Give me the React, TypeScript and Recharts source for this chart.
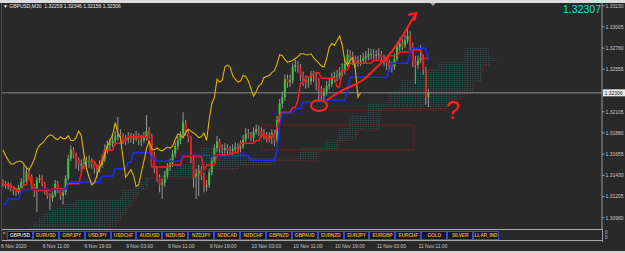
import {
  ComposedChart, Bar, Line, Area, XAxis, YAxis, ReferenceLine, ReferenceArea, ReferenceDot,
} from 'recharts'

const symbol = 'GBPUSD'
const period = 'M30'
const askText = '1.32307'

// M30 bars, 6 Nov 03:30 .. 11 Nov 13:00
const firstOpen = 1.3136
const closes = [
  1.3134, 1.3132, 1.3133, 1.3129, 1.3127, 1.3125, 1.3130, 1.3136, 1.3137, 1.3147,
  1.3142, 1.3132, 1.3127, 1.3138, 1.3140, 1.3134, 1.3127, 1.3121, 1.3119, 1.3123,
  1.3134, 1.3127, 1.3121, 1.3125, 1.3140, 1.3161, 1.3170, 1.3164, 1.3159, 1.3155,
  1.3155, 1.3157, 1.3158, 1.3158, 1.3155, 1.3151, 1.3149, 1.3154, 1.3160, 1.3170,
  1.3175, 1.3177, 1.3180, 1.3184, 1.3186, 1.3185, 1.3182, 1.3181, 1.3184, 1.3182,
  1.3182, 1.3185, 1.3180, 1.3180, 1.3183, 1.3190, 1.3185, 1.3166, 1.3150, 1.3141,
  1.3133, 1.3135, 1.3143, 1.3152, 1.3156, 1.3166, 1.3174, 1.3180, 1.3186, 1.3199,
  1.3188, 1.3183, 1.3161, 1.3141, 1.3145, 1.3149, 1.3143, 1.3131, 1.3133, 1.3146,
  1.3158, 1.3172, 1.3179, 1.3171, 1.3170, 1.3172, 1.3170, 1.3169, 1.3171, 1.3173,
  1.3172, 1.3174, 1.3181, 1.3187, 1.3186, 1.3183, 1.3189, 1.3192, 1.3190, 1.3188,
  1.3186, 1.3183, 1.3184, 1.3188, 1.3180, 1.3202, 1.3219, 1.3226, 1.3245, 1.3242,
  1.3244, 1.3258, 1.3260, 1.3258, 1.3249, 1.3245, 1.3242, 1.3243, 1.3249, 1.3248,
  1.3243, 1.3235, 1.3227, 1.3232, 1.3238, 1.3240, 1.3247, 1.3248, 1.3249, 1.3252,
  1.3254, 1.3261, 1.3271, 1.3270, 1.3266, 1.3263, 1.3264, 1.3265, 1.3267, 1.3269,
  1.3272, 1.3272, 1.3271, 1.3271, 1.3272, 1.3268, 1.3265, 1.3262, 1.3259, 1.3258,
  1.3267, 1.3279, 1.3283, 1.3281, 1.3286, 1.3291, 1.3281, 1.3264, 1.3260, 1.3265,
  1.3268, 1.3255, 1.32259, 1.32306,
]
const highs = [
  1.3139, 1.3137, 1.3136, 1.3135, 1.3131, 1.3130, 1.3133, 1.3140, 1.3154, 1.3152,
  1.3150, 1.3144, 1.3134, 1.3141, 1.3144, 1.3143, 1.3136, 1.3129, 1.3124, 1.3126,
  1.3138, 1.3137, 1.3129, 1.3128, 1.3143, 1.3165, 1.3175, 1.3173, 1.3167, 1.3162,
  1.3160, 1.3162, 1.3163, 1.3164, 1.3161, 1.3158, 1.3155, 1.3159, 1.3165, 1.3176,
  1.3180, 1.3182, 1.3186, 1.3190, 1.3205, 1.3192, 1.3188, 1.3186, 1.3189, 1.3188,
  1.3187, 1.3190, 1.3188, 1.3186, 1.3189, 1.3207, 1.3194, 1.3187, 1.3168, 1.3153,
  1.3144, 1.3140, 1.3148, 1.3156, 1.3161, 1.3170, 1.3178, 1.3185, 1.3190, 1.3210,
  1.3202, 1.3192, 1.3185, 1.3163, 1.3150, 1.3154, 1.3153, 1.3146, 1.3138, 1.3150,
  1.3162, 1.3176, 1.3185, 1.3182, 1.3176, 1.3177, 1.3176, 1.3174, 1.3176, 1.3178,
  1.3177, 1.3180, 1.3186, 1.3193, 1.3192, 1.3189, 1.3194, 1.3197, 1.3196, 1.3194,
  1.3192, 1.3189, 1.3189, 1.3192, 1.3191, 1.3206, 1.3224, 1.3232, 1.3250, 1.3250,
  1.3250, 1.3262, 1.3266, 1.3264, 1.3261, 1.3253, 1.3249, 1.3248, 1.3254, 1.3254,
  1.3252, 1.3246, 1.3238, 1.3236, 1.3243, 1.3246, 1.3252, 1.3253, 1.3255, 1.3258,
  1.3262, 1.3266, 1.3277, 1.3276, 1.3274, 1.3270, 1.3270, 1.3271, 1.3273, 1.3275,
  1.3278, 1.3277, 1.3277, 1.3276, 1.3278, 1.3275, 1.3271, 1.3268, 1.3266, 1.3264,
  1.3272, 1.3284, 1.3289, 1.3288, 1.3292, 1.3300, 1.3296, 1.3284, 1.3270, 1.3270,
  1.3281, 1.3271, 1.3258, 1.32346,
]
const lows = [
  1.3131, 1.3129, 1.3128, 1.3126, 1.3122, 1.3121, 1.3123, 1.3128, 1.3133, 1.3135,
  1.3139, 1.3129, 1.3120, 1.3104, 1.3135, 1.3131, 1.3123, 1.3118, 1.3106, 1.3115,
  1.3120, 1.3124, 1.3117, 1.3112, 1.3122, 1.3138, 1.3158, 1.3161, 1.3150, 1.3148,
  1.3146, 1.3150, 1.3152, 1.3151, 1.3150, 1.3145, 1.3140, 1.3146, 1.3151, 1.3157,
  1.3166, 1.3170, 1.3173, 1.3176, 1.3180, 1.3180, 1.3176, 1.3175, 1.3177, 1.3178,
  1.3176, 1.3179, 1.3175, 1.3174, 1.3177, 1.3180, 1.3182, 1.3162, 1.3145, 1.3136,
  1.3125, 1.3118, 1.3131, 1.3139, 1.3148, 1.3152, 1.3162, 1.3170, 1.3176, 1.3183,
  1.3185, 1.3178, 1.3156, 1.3130, 1.3118, 1.3121, 1.3138, 1.3125, 1.3126, 1.3130,
  1.3143, 1.3155, 1.3168, 1.3167, 1.3165, 1.3166, 1.3165, 1.3164, 1.3165, 1.3167,
  1.3167, 1.3168, 1.3171, 1.3178, 1.3182, 1.3179, 1.3179, 1.3186, 1.3185, 1.3183,
  1.3181, 1.3178, 1.3178, 1.3176, 1.3174, 1.3178, 1.3199, 1.3214, 1.3222, 1.3236,
  1.3237, 1.3240, 1.3253, 1.3252, 1.3243, 1.3238, 1.3235, 1.3236, 1.3239, 1.3242,
  1.3233, 1.3222, 1.3221, 1.3222, 1.3228, 1.3234, 1.3237, 1.3242, 1.3243, 1.3245,
  1.3248, 1.3250, 1.3258, 1.3264, 1.3260, 1.3257, 1.3258, 1.3259, 1.3261, 1.3262,
  1.3265, 1.3266, 1.3266, 1.3265, 1.3266, 1.3262, 1.3259, 1.3255, 1.3253, 1.3252,
  1.3255, 1.3264, 1.3275, 1.3276, 1.3278, 1.3283, 1.3276, 1.3258, 1.3240, 1.3256,
  1.3262, 1.3250, 1.3218, 1.32156,
]

// Ichimoku lines as [first bar, level] steps
const tenkanSteps: [number, number][] = [
  [0, 1.3133], [3, 1.3131], [5, 1.3127], [8, 1.3133], [10, 1.3143], [11, 1.3131], [12, 1.3127],
  [19, 1.3129], [25, 1.3134], [30, 1.3146], [31, 1.3158], [36, 1.3152], [38, 1.3162], [39, 1.3170],
  [43, 1.3177], [46, 1.3180], [48, 1.3184], [56, 1.3178], [57, 1.3152], [64, 1.3154], [69, 1.3163],
  [77, 1.3149], [78, 1.3154], [82, 1.3165], [88, 1.3167], [91, 1.3177], [97, 1.3180], [99, 1.3186],
  [101, 1.3181], [103, 1.3186], [105, 1.3194], [106, 1.3207], [107, 1.3210], [111, 1.3215],
  [113, 1.3223], [114, 1.3241], [116, 1.3247], [119, 1.3252], [122, 1.3246], [128, 1.3237],
  [130, 1.3255], [133, 1.3262], [142, 1.3265], [148, 1.3270], [152, 1.3274], [157, 1.3276],
  [161, 1.3267],
]
const kijunSteps: [number, number][] = [
  [0, 1.3112], [2, 1.3118], [7, 1.3128], [25, 1.3136], [38, 1.3142], [43, 1.3150], [48, 1.3157],
  [50, 1.3167], [57, 1.3161], [59, 1.3158], [69, 1.3164], [95, 1.3159], [105, 1.3170],
  [106, 1.3196], [107, 1.3209], [112, 1.3214], [115, 1.3221], [124, 1.3223], [132, 1.3233],
  [133, 1.3247], [148, 1.3253], [149, 1.3262], [156, 1.3274], [157, 1.3278], [163, 1.3265],
]
const spanASteps: [number, number][] = [
  [10, 1.3087], [12, 1.3093], [14, 1.3099], [16, 1.3103], [18, 1.3106], [21, 1.3110], [24, 1.3114],
  [28, 1.3117], [31, 1.3118], [46, 1.3128], [50, 1.3131], [52, 1.3136], [55, 1.3141], [60, 1.3146],
  [63, 1.3150], [68, 1.3156], [72, 1.3165], [76, 1.3172], [84, 1.3168], [93, 1.3162], [104, 1.3161],
  [114, 1.3172], [124, 1.3180], [129, 1.3193], [133, 1.3206], [140, 1.3220], [148, 1.3233],
  [153, 1.3244], [158, 1.3255], [167, 1.3263], [177, 1.3278], [187, 1.3267],
]
const spanBSteps: [number, number][] = [
  [10, 1.3080], [41, 1.3087], [44, 1.3095], [46, 1.3103], [48, 1.3110], [50, 1.3117], [52, 1.3124],
  [53, 1.3128], [56, 1.3140], [75, 1.3149], [91, 1.3154], [105, 1.3159], [121, 1.3170],
  [129, 1.3180], [136, 1.3191], [145, 1.3214], [171, 1.3223], [176, 1.3230], [181, 1.3243],
  [184, 1.3260], [187, 1.3265],
]
const LAST_BAR = 163
const CLOUD_END = 189
const CHIKOU_SHIFT = 26

const timeTickBars = [0, 15, 31, 47, 63, 79, 95, 111, 127, 143, 159]
const timeLabels = [
  '6 Nov 2020', '6 Nov 11:00', '6 Nov 19:00', '9 Nov 03:00', '9 Nov 11:00', '9 Nov 19:00',
  '10 Nov 03:00', '10 Nov 11:00', '10 Nov 19:00', '11 Nov 03:00', '11 Nov 11:00',
]
const priceTicks = [1.3098, 1.31205, 1.3143, 1.31655, 1.3188, 1.32105, 1.32555, 1.3278, 1.33005, 1.3323]

const tabs = [
  'GBPUSD', 'EURUSD', 'GBPJPY', 'USDJPY', 'USDCHF', 'AUDUSD', 'NZDUSD', 'NZDJPY', 'NZDCAD', 'NZDCHF',
  'GBPNZD', 'GBPAUD', 'EURNZD', 'EURJPY', 'EURGBP', 'EURCHF', 'GOLD', 'SILVER', 'LLAR_IND',
]

// hand drawn marks, in bar / price units
const arrowPath = [
  { i: 124.1, p: 1.32229 }, { i: 130.3, p: 1.32336 }, { i: 137.9, p: 1.32442 }, { i: 144.4, p: 1.32612 },
  { i: 149.4, p: 1.3276 }, { i: 153.3, p: 1.32919 }, { i: 156.7, p: 1.33078 }, { i: 158.4, p: 1.33153 },
]
const arrowHead = [{ i: 155.2, p: 1.33131 }, { i: 158.4, p: 1.33153 }, { i: 157.5, p: 1.33068 }]
const circleAt = { i: 121.1, p: 1.32171 }
const questionAt = { i: 172.4, p: 1.32123 }
const boxes = [
  { i1: 99.2, i2: 157.5, p1: 1.31699, p2: 1.31964 },
  { i1: 118.8, i2: 169.35, p1: 1.32124, p2: 1.32166 },
]

const FONT = '"Liberation Sans", Arial, sans-serif'
const BG = '#292929'
const TEXT = '#c8c8c8'
const PLOT_RIGHT = 602

function stepFill(steps: [number, number][], end: number) {
  const out: (number | null)[] = []
  let k = 0
  for (let b = 0; b <= end; b++) {
    while (k + 1 < steps.length && steps[k + 1][0] <= b) k++
    out.push(b >= steps[0][0] ? steps[k][1] : null)
  }
  return out
}

const tenkan = stepFill(tenkanSteps, LAST_BAR)
const kijun = stepFill(kijunSteps, LAST_BAR)
const spanA = stepFill(spanASteps, CLOUD_END)
const spanB = stepFill(spanBSteps, CLOUD_END)

const rows = Array.from({ length: CLOUD_END + 1 }, (_, i) => ({
  i,
  open: i <= LAST_BAR ? (i === 0 ? firstOpen : closes[i - 1]) : null,
  high: highs[i] ?? null,
  low: lows[i] ?? null,
  close: closes[i] ?? null,
  tenkan: tenkan[i] ?? null,
  kijun: kijun[i] ?? null,
  chikou: closes[i + CHIKOU_SHIFT] ?? null,
  spanA: spanA[i] ?? null,
  spanB: spanB[i] ?? null,
}))

const last = rows[LAST_BAR]
const bid = closes[LAST_BAR]

const Candle = (props: any) => {
  const { x, y, width, height, payload } = props
  if (payload == null || payload.high == null) return null
  const top = Math.min(y, y + height)
  const h = Math.abs(height)
  const span = payload.high - payload.low || 1e-9
  const py = (v: number) => top + ((payload.high - v) / span) * h
  const cx = x + width / 2
  const up = payload.close >= payload.open
  const bTop = py(Math.max(payload.open, payload.close))
  const bBot = py(Math.min(payload.open, payload.close))
  return (
    <g>
      <line x1={cx} x2={cx} y1={top} y2={top + h} stroke="#a4a4a4" strokeWidth={0.9} />
      <rect x={cx - 1} y={bTop} width={2} height={Math.max(1, bBot - bTop)} fill={up ? '#3cc43c' : '#f01c1c'} />
    </g>
  )
}

const PriceTick = (props: any) => {
  const { y, payload } = props
  const v = payload.value as number
  if (v === bid) {
    return (
      <g>
        <rect x={603} y={y - 3.5} width={22} height={7} fill="#e8e8e8" />
        <text x={604.5} y={y + 1.8} fontSize={5} fill="#222" fontFamily={FONT}>{v.toFixed(5)}</text>
      </g>
    )
  }
  return (
    <g>
      <line x1={PLOT_RIGHT} x2={PLOT_RIGHT + 2.5} y1={y} y2={y} stroke="#9a9a9a" />
      <text x={605.5} y={y + 1.8} fontSize={5} fill={TEXT} fontFamily={FONT}>{v.toFixed(5)}</text>
    </g>
  )
}

const TimeTick = (props: any) => {
  const { x, payload } = props
  const k = timeTickBars.indexOf(payload.value)
  if (k < 0) return null
  return (
    <text x={k === 0 ? x - 2 : x + 0.5} y={248} fontSize={5} fill={TEXT} fontFamily={FONT}>
      {timeLabels[k]}
    </text>
  )
}

export default function App() {
  const header = `${symbol},${period}  ${last.open!.toFixed(5)} ${last.high!.toFixed(5)} ${last.low!.toFixed(5)} ${last.close!.toFixed(5)}`
  return (
    <div style={{ position: 'relative', width: 625, height: 253, background: BG, overflow: 'hidden', fontFamily: FONT }}>
      <style>{'body{margin:0}'}</style>
      <ComposedChart
        width={625}
        height={253}
        data={rows}
        margin={{ top: 3, right: 0, bottom: 0, left: 2 }}
      >
        <defs>
          <pattern id="cloudDots" width={2.61} height={2} patternUnits="userSpaceOnUse" x={2.5} y={0}>
            <rect width={1} height={1} fill="#22605f" />
          </pattern>
        </defs>
        <XAxis
          dataKey="i"
          type="number"
          domain={[-0.38, 229.5]}
          ticks={timeTickBars}
          interval={0}
          tick={<TimeTick />}
          tickLine={false}
          axisLine={false}
          height={24}
          allowDataOverflow
        />
        <YAxis
          orientation="right"
          type="number"
          domain={[1.30861, 1.33259]}
          ticks={[...priceTicks, bid]}
          interval={0}
          tick={<PriceTick />}
          tickLine={false}
          axisLine={{ stroke: '#9a9a9a' }}
          width={23}
          allowDataOverflow
        />
        <Area
          dataKey={(d: any) => (d.spanA == null ? null : [d.spanB, d.spanA])}
          type="linear"
          fill="url(#cloudDots)"
          fillOpacity={1}
          stroke="none"
          isAnimationActive={false}
        />
        <Line dataKey="spanB" type="linear" stroke="#8a2020" strokeWidth={1} strokeDasharray="1 1.5" dot={false} isAnimationActive={false} />
        {boxes.map((b, k) => (
          <ReferenceArea key={k} x1={b.i1} x2={b.i2} y1={b.p1} y2={b.p2} fill="none" fillOpacity={0} stroke="#8a2020" strokeDasharray="1 1" strokeWidth={1} />
        ))}
        <ReferenceLine y={bid} stroke="#8a8a8a" strokeWidth={1} />
        <Bar
          dataKey={(d: any) => (d.high == null ? null : [d.low, d.high])}
          barSize={2}
          shape={<Candle />}
          isAnimationActive={false}
        />
        <Line dataKey="tenkan" type="linear" stroke="#ff1a1a" strokeWidth={1.5} dot={false} isAnimationActive={false} />
        <Line dataKey="kijun" type="linear" stroke="#1a2cff" strokeWidth={1.5} dot={false} isAnimationActive={false} />
        <Line dataKey="chikou" type="linear" stroke="#e0b400" strokeWidth={1.1} dot={false} isAnimationActive={false} />
        <Line data={arrowPath} dataKey="p" type="monotone" stroke="#ff2020" strokeWidth={2} dot={false} isAnimationActive={false} />
        <Line data={arrowHead} dataKey="p" type="linear" stroke="#ff2020" strokeWidth={2} dot={false} isAnimationActive={false} />
        <ReferenceDot
          x={circleAt.i}
          y={circleAt.p}
          shape={(p: any) => <ellipse cx={p.cx} cy={p.cy} rx={8} ry={5.5} fill="none" stroke="#ff2020" strokeWidth={2} />}
        />
        <ReferenceDot
          x={questionAt.i}
          y={questionAt.p}
          shape={(p: any) => (
            <text x={p.cx} y={p.cy + 9} textAnchor="middle" fontSize={25} fill="#ff2020" fontFamily={FONT}>?</text>
          )}
        />
      </ComposedChart>

      {/* window chrome */}
      <div style={{ position: 'absolute', left: 0, top: 0, width: 625, height: 3, background: '#dcdcdc' }} />
      <div style={{ position: 'absolute', left: 1, top: 3, width: 1, height: 238, background: '#4a4a4a' }} />
      <div style={{ position: 'absolute', left: 430, top: 3, width: 0, height: 0, borderLeft: '3px solid transparent', borderRight: '3px solid transparent', borderTop: '3px solid #9a9a9a' }} />
      <div style={{ position: 'absolute', left: 3, top: 2.5, color: '#e8e8e8', fontSize: 5, lineHeight: '7px', whiteSpace: 'pre' }}>
        {'\u25BC ' + header}
      </div>
      <div style={{ position: 'absolute', right: 24, top: 3, color: '#22dede', fontSize: 10.5, lineHeight: '12px' }}>{askText}</div>

      {/* indicator sub-window with symbol buttons */}
      <div style={{ position: 'absolute', left: 2, top: 229, width: 600, height: 12, borderTop: '1px solid #a8a8a8', borderBottom: '1px solid #a8a8a8', background: BG, boxSizing: 'border-box' }} />
      <div style={{ position: 'absolute', left: PLOT_RIGHT, top: 229, width: 1, height: 13, background: '#9a9a9a' }} />
      <div style={{ position: 'absolute', left: 2.5, top: 229.5, color: '#bdbdbd', fontSize: 5.5 }}>×</div>
      <div style={{ position: 'absolute', left: 605, top: 229.5, color: TEXT, fontSize: 4.5, lineHeight: '5.5px' }}>0<br />0</div>
      <div style={{ position: 'absolute', left: 7, top: 231, display: 'flex' }}>
        {tabs.map((t, k) => (
          <div
            key={t}
            style={{
              width: 25.9,
              height: 9,
              boxSizing: 'border-box',
              border: '1px solid #3350c8',
              background: k === 0 ? '#0c0c0c' : '#14142a',
              color: k === 0 ? '#dcdcdc' : '#e0a800',
              fontSize: 4.8,
              fontWeight: 700,
              lineHeight: '7px',
              textAlign: 'center',
              whiteSpace: 'nowrap',
              letterSpacing: -0.1,
            }}
          >
            {t}
          </div>
        ))}
      </div>
      <div style={{ position: 'absolute', left: 0, top: 250.5, width: 625, height: 3, background: '#d4d4d4' }} />
    </div>
  )
}
